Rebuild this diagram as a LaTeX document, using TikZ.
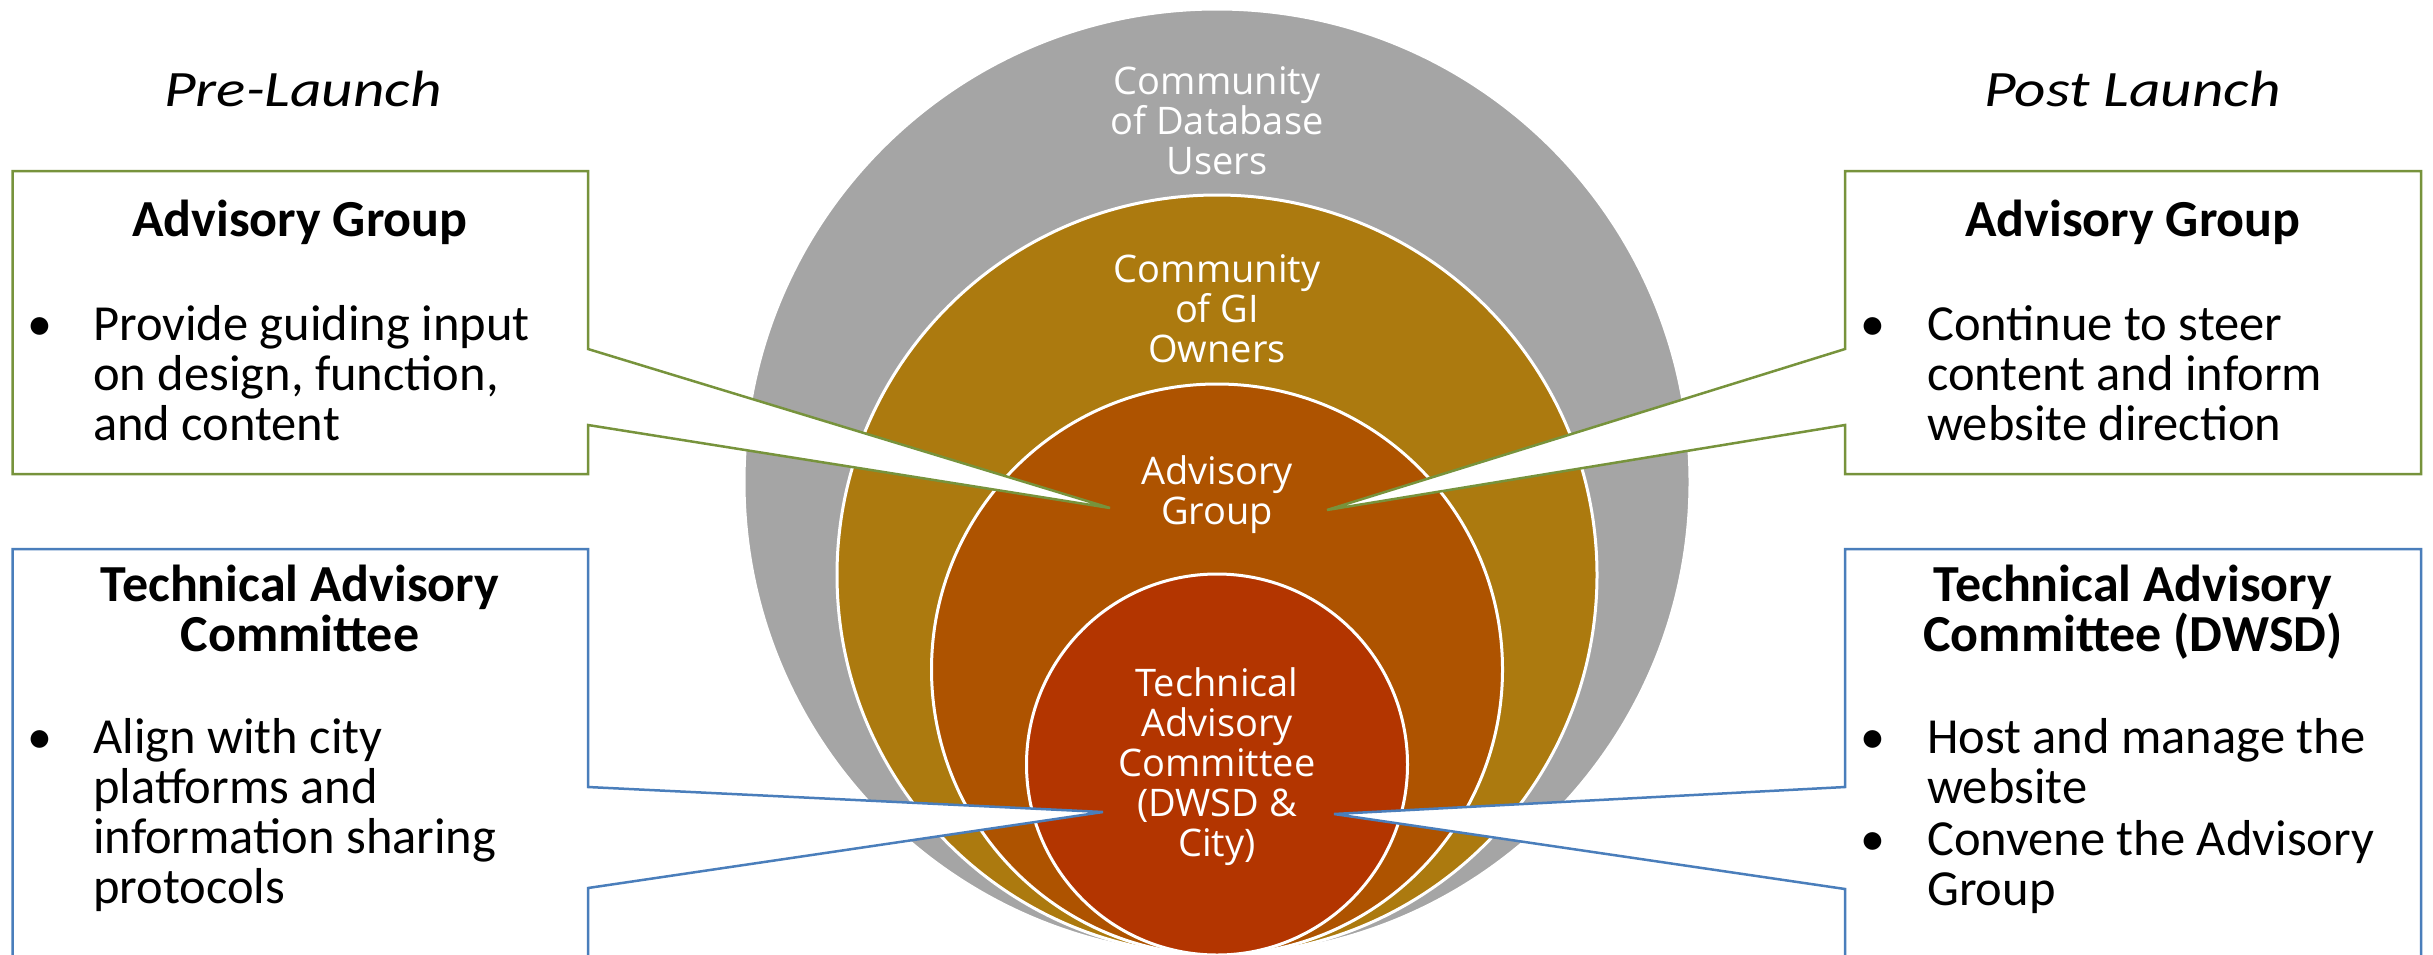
\documentclass[tikz,border=0pt]{standalone}
\usepackage{fontspec}
\setmainfont{Carlito}
\newfontfamily\circfont{Open Sans}
\newfontfamily\headfont[FakeStretch=1.2]{Carlito}
\definecolor{cgray}{HTML}{A5A5A5}
\definecolor{cgold}{HTML}{AC7A0F}
\definecolor{cadv}{HTML}{AE5300}
\definecolor{ctech}{HTML}{B33500}
\definecolor{bgreen}{HTML}{77933C}
\definecolor{bblue}{HTML}{4A7EBB}
\tikzset{
  ring/.style={circle, draw=white, line width=3pt, inner sep=0pt, outer sep=0pt},
  ringtext/.style={font=\circfont\fontsize{38}{40}\selectfont, text=white, align=center, anchor=base, inner sep=0pt},
  calloutG/.style={draw=bgreen, line width=2.5pt, fill=white},
  calloutB/.style={draw=bblue, line width=2.5pt, fill=white},
  boxtitle/.style={font=\bfseries\fontsize{52}{50}\selectfont, align=center, anchor=base, inner sep=0pt},
  boxbody/.style={font=\fontsize{50.5}{50}\selectfont, align=left, anchor=base west, inner sep=0pt},
  bulletmark/.style={font=\fontsize{50}{50}\selectfont, anchor=base, inner sep=0pt},
  phase/.style={font=\headfont\itshape\fontsize{51}{60}\selectfont, anchor=base, inner sep=0pt},
}
\begin{document}
\begin{tikzpicture}[x=1pt,y=-1pt]
\useasboundingbox (0,0) rectangle (2433,954);

% nested circles
\node[ring, fill=cgray, minimum size=946pt] (cdu) at (1217,482) {};
\node[ring, fill=cgold, minimum size=760pt] (gio) at (1217,575) {};
\node[ring, fill=cadv, minimum size=571pt] (adv) at (1217,669.5) {};
\node[ring, fill=ctech, minimum size=381pt] (tac) at (1217,764.5) {};

% callout tips
\coordinate (tipAL) at (1110,508);
\coordinate (tipAR) at (1327,510);
\coordinate (tipTL) at (1103,812);
\coordinate (tipTR) at (1334,814);

% callout boxes
\draw[calloutG] (12.5,171) -- (588,171) -- (588,349) -- (tipAL) -- (588,425) -- (588,474) -- (12.5,474) -- cycle;
\draw[calloutG] (2421,171) -- (1845,171) -- (1845,349) -- (tipAR) -- (1845,425) -- (1845,474) -- (2421,474) -- cycle;
\draw[calloutB] (12.5,549) -- (588,549) -- (588,787) -- (tipTL) -- (588,888) -- (588,980) -- (12.5,980) -- cycle;
\draw[calloutB] (2421,549) -- (1845,549) -- (1845,787) -- (tipTR) -- (1845,889) -- (1845,980) -- (2421,980) -- cycle;

% ring texts (anchor = baseline of last line)
\node[ringtext] (tcdu) at (1217,174.5) {Community\\of Database\\Users};
\node[ringtext] (tgio) at (1217,362) {Community\\of GI\\Owners};
\node[ringtext] (tadv) at (1217,524) {Advisory\\Group};
\node[ringtext] (ttac) at (1217,856) {Technical\\Advisory\\Committee\\(DWSD \&\\City)};

% phase headings
\node[phase] (pre) at (303,106.7) {Pre-Launch};
\node[phase] (post) at (2132.5,106.7) {Post Launch};

% left top box
\node[boxtitle] (agLt) at (300,236.7) {Advisory Group};
\node[bulletmark] (bL1) at (40,340) {•};
\node[boxbody] (agLb) at (93,440) {Provide guiding input\\on design, function,\\and content};

% right top box
\node[boxtitle] (agRt) at (2133,236.7) {Advisory Group};
\node[bulletmark] (bR1) at (1873,340) {•};
\node[boxbody] (agRb) at (1927,440) {Continue to steer\\content and inform\\website direction};

% left bottom box
\node[boxtitle] (tcLt) at (300,651) {Technical Advisory\\Committee};
\node[bulletmark] (bL2) at (40,753) {•};
\node[boxbody] (tcLb) at (93,903) {Align with city\\platforms and\\information sharing\\protocols};

% right bottom box
\node[boxtitle] (tcRt) at (2133,651) {Technical Advisory\\Committee (DWSD)};
\node[bulletmark] (bR2) at (1873,753) {•};
\node[boxbody] (tcRb1) at (1927,803) {Host and manage the\\website};
\node[bulletmark] (bR3) at (1873,855) {•};
\node[boxbody] (tcRb2) at (1927,905) {Convene the Advisory\\Group};
\end{tikzpicture}
\end{document}
